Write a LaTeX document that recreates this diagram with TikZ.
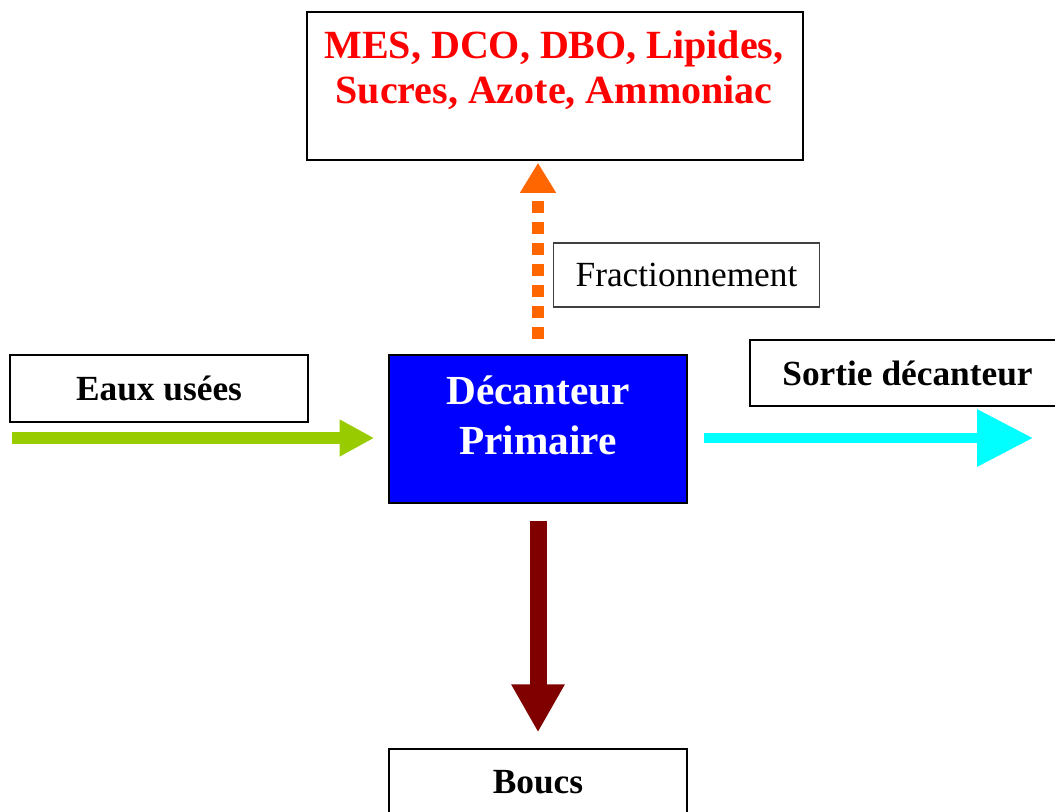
\documentclass[tikz,border=0pt]{standalone}
\usepackage{fontspec}
\setmainfont{Liberation Serif}
\usetikzlibrary{arrows.meta}
\definecolor{leafgreen}{RGB}{153,204,0}
\definecolor{aqua}{RGB}{0,255,255}
\definecolor{sludge}{RGB}{128,0,0}
\definecolor{fracorange}{RGB}{255,102,0}

\begin{document}
\begin{tikzpicture}[x=0.75pt, y=-0.75pt,
    box/.style={draw=black, line width=1.2pt, fill=white, inner sep=0pt},
    boxtext/.style={font=\fontsize{26.5}{30}\selectfont\bfseries, align=center},
    flow/.style 2 args={-{Triangle[length=#1, width=#2]}}]
    \useasboundingbox (0,0) rectangle (1055,812);

    % The parameters
    \node[box, minimum width=372pt, minimum height=111pt] (param) at (555,86) {};
    \node[align=center, text=red, font=\fontsize{30}{34}\selectfont\bfseries] (paramtxt) at (554,70) {MES, DCO, DBO, Lipides,\\Sucres, Azote, Ammoniac};

    % The settler
    \node[box, fill=blue, minimum width=223.5pt, minimum height=111pt] (dec) at (538,429) {};
    \node[align=center, text=white, font=\fontsize{31}{37.5}\selectfont\bfseries] (dectxt) at (538,415) {Décanteur\\Primaire};

    % Inlet, outlet, sludge
    \node[box, boxtext, minimum width=223.5pt, minimum height=50pt] (eaux) at (159,388.5) {Eaux usées};
    \node[box, boxtext, minimum width=236pt, minimum height=49.5pt] (sortie) at (907.5,373) {Sortie décanteur};
    \node[box, boxtext, minimum width=223.5pt, minimum height=50pt] (boucs) at (538,782.5) {Boucs};
    \node[box, line width=0.9pt, draw=black!75, minimum width=200pt, minimum height=48pt,
        font=\fontsize{26.5}{30}\selectfont] (frac) at (686.5,275) {Fractionnement};

    % Arrows
    \coordinate (inlet) at (12,438);
    \coordinate (outlet) at (1033,438);
    \draw[flow={26pt}{26pt}, line width=9pt, leafgreen, shorten >=10.5pt] (inlet) -- (dec.west |- inlet);
    \draw[flow={42pt}{41pt}, line width=8pt, aqua, shorten <=12pt] (dec.east |- outlet) -- (outlet);
    \draw[flow={36pt}{37.5pt}, line width=12.75pt, sludge, shorten <=12.75pt, shorten >=12pt] (dec.south) -- (boucs.north);
    \draw[flow={22.5pt}{25.5pt}, line width=9pt, fracorange, dash pattern=on 9pt off 6.75pt,
        shorten <=11.25pt, shorten >=1.5pt] (dec.north) -- (dec.north |- param.south);
\end{tikzpicture}
\end{document}
